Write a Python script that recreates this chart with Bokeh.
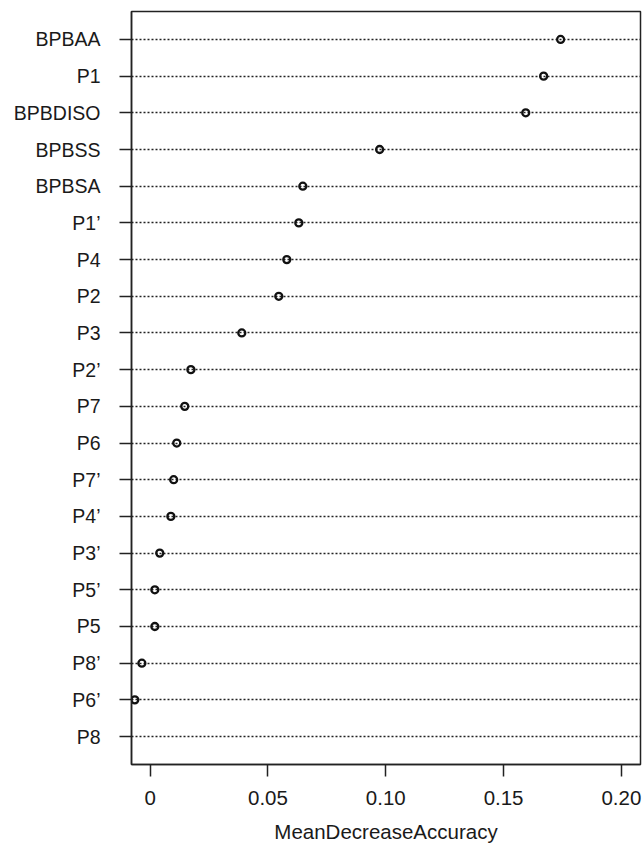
from bokeh.plotting import figure
from bokeh.models import Range1d, FixedTicker, ColumnDataSource
from bokeh.embed import file_html
from bokeh.resources import INLINE

# Variables, top to bottom
variables = ["BPBAA", "P1", "BPBDISO", "BPBSS", "BPBSA", "P1\u2019", "P4", "P2", "P3",
             "P2\u2019", "P7", "P6", "P7\u2019", "P4\u2019", "P3\u2019", "P5\u2019", "P5",
             "P8\u2019", "P6\u2019", "P8"]
importance = [0.1742, 0.1670, 0.1594, 0.0974, 0.0648, 0.0631, 0.0580, 0.0546, 0.0389,
              0.0173, 0.0147, 0.0113, 0.0100, 0.0088, 0.0041, 0.0020, 0.0020,
              -0.0035, -0.0065, -0.0120]
x_ticks = [0, 0.05, 0.10, 0.15, 0.20]
x_tick_labels = ["0", "0.05", "0.10", "0.15", "0.20"]
x_label = "MeanDecreaseAccuracy"

n = len(variables)
ypos = [n - i for i in range(n)]

src = ColumnDataSource(dict(x=importance, y=ypos, name=variables))

FONT = "Liberation Sans"
TXT = "#1a1a1a"

p = figure(width=644, height=845, output_backend="svg", toolbar_location=None,
           x_range=Range1d(-0.0079, 0.2081), y_range=Range1d(0.238, 20.762),
           min_border_left=131, min_border_right=4, min_border_top=11,
           min_border_bottom=80)
p.background_fill_color = "white"
p.border_fill_color = "white"
p.outline_line_color = "#222222"
p.outline_line_width = 1.5

# dotted row lines via grid
p.xgrid.visible = False
p.ygrid.ticker = FixedTicker(ticks=ypos)
p.ygrid.grid_line_color = "#222222"
p.ygrid.grid_line_dash = "2 2"
p.ygrid.grid_line_width = 1.3

p.scatter("x", "y", source=src, marker="circle", size=7, fill_color=None,
          line_color="#111111", line_width=2.3)

# y axis
p.yaxis.ticker = FixedTicker(ticks=ypos)
p.yaxis.major_label_overrides = {y: nm for y, nm in zip(ypos, variables)}
p.yaxis.major_tick_in = 0
p.yaxis.major_tick_out = 12
p.yaxis.major_tick_line_width = 1.5
p.yaxis.major_tick_line_color = "#222222"
p.yaxis.minor_tick_line_color = None
p.yaxis.axis_line_color = "#222222"
p.yaxis.axis_line_width = 1.5
p.yaxis.major_label_standoff = 19
p.yaxis.major_label_text_font = FONT
p.yaxis.major_label_text_font_size = "19.5px"
p.yaxis.major_label_text_color = TXT

# x axis
p.xaxis.ticker = FixedTicker(ticks=x_ticks)
p.xaxis.major_label_overrides = {t: l for t, l in zip(x_ticks, x_tick_labels)}
p.xaxis.major_tick_in = 0
p.xaxis.major_tick_out = 12
p.xaxis.major_tick_line_width = 1.5
p.xaxis.major_tick_line_color = "#222222"
p.xaxis.minor_tick_line_color = None
p.xaxis.axis_line_color = "#222222"
p.xaxis.axis_line_width = 1.5
p.xaxis.major_label_standoff = 14
p.xaxis.major_label_text_font = FONT
p.xaxis.major_label_text_font_size = "20.5px"
p.xaxis.major_label_text_color = TXT
p.xaxis.axis_label = x_label
p.xaxis.axis_label_text_font = FONT
p.xaxis.axis_label_text_font_size = "20.5px"
p.xaxis.axis_label_text_font_style = "normal"
p.xaxis.axis_label_text_color = TXT
p.xaxis.axis_label_standoff = 12

open("out.html", "w").write(file_html(p, INLINE))
